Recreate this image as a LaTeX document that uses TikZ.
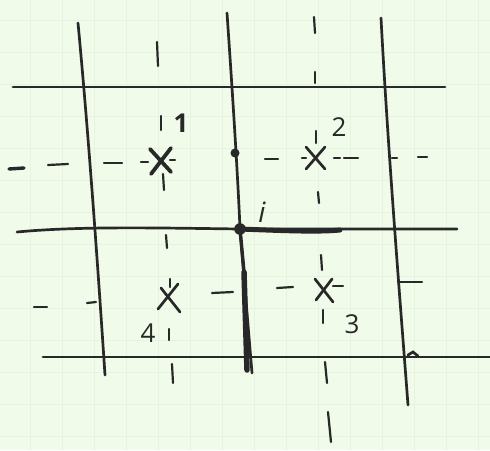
\documentclass[tikz,border=0pt]{standalone}
\usepackage{fontspec}
\setmainfont{Open Sans}
\usetikzlibrary{calc}
\definecolor{paper}{RGB}{240,251,234}
\definecolor{gridc}{RGB}{230,243,224}
\definecolor{ink}{RGB}{40,40,40}
\begin{document}
\begin{tikzpicture}[x=1pt,y=-1pt,
  ink line/.style={draw=ink,line width=2.7pt,line cap=round},
  bold line/.style={draw=ink,line width=5pt,line cap=round},
  tick/.style={draw=ink,line width=2.2pt,line cap=round},
  crossmark/.style={draw=ink,line width=2.7pt,line cap=round},
  lbl/.style={text=ink,font=\fontsize{26}{26}\selectfont,inner sep=0pt}]
\fill[paper] (0,0) rectangle (490,450);
\useasboundingbox (0,0) rectangle (490,450);
% faint paper grid
\foreach \x in {30,62,94,126,158,190,222,254,286,318,350,382,414,446,478}
  \draw[gridc,line width=0.6pt] (\x,0) -- (\x,450);
\foreach \y in {20,52,84,116,148,180,212,244,276,308,340,372,404,436}
  \draw[gridc,line width=0.6pt] (0,\y) -- (490,\y);
% grid lines
\draw[ink line] (78,23) .. controls (90,150) and (100,300) .. (105,375);
\draw[ink line] (227,13) .. controls (233,100) and (238,180) .. (240,229);
\draw[ink line] (240,229) -- (252,373);
\draw[ink line] (381,18) .. controls (388,150) and (400,300) .. (408,405);
\draw[ink line] (13,87) -- (445,87);
\draw[ink line] (17,232) .. controls (80,226) and (160,228) .. (240,229) -- (457,229);
\draw[ink line] (43,357) -- (490,357);
\draw[ink line] (408,355) -- (413,352) -- (418,356);
% bold segments
\draw[bold line] (240,229) .. controls (290,231) and (320,232) .. (340,230);
\draw[bold line,line width=5.5pt] (244,272) -- (247,370);
\draw[ink line,line width=3.4pt] (240,229) -- (244,272);
% dots
\fill[ink] (235,153) circle (4.5);
\fill[ink] (240,229) circle (5.8);
% crosses
\coordinate (c1) at (160,161);
\coordinate (c2) at (315,158);
\coordinate (c3) at (323,290);
\coordinate (c4) at (168,297);
\draw[crossmark,line width=3.8pt] ($(c1)+(-10,-12)$) -- ($(c1)+(11,11)$);
\draw[crossmark,line width=3.8pt] ($(c1)+(11,-13)$) -- ($(c1)+(-9,13)$);
\draw[crossmark] ($(c2)+(-9,-11)$) -- ($(c2)+(10,11)$);
\draw[crossmark] ($(c2)+(10,-11)$) -- ($(c2)+(-9,11)$);
\draw[crossmark] ($(c3)+(-8,-11)$) -- ($(c3)+(10,12)$);
\draw[crossmark] ($(c3)+(9,-11)$) -- ($(c3)+(-7,10)$);
\draw[crossmark] ($(c4)+(-7,-9)$) -- ($(c4)+(12,15)$);
\draw[crossmark] ($(c4)+(10,-13)$) -- ($(c4)+(-10,12)$);
% horizontal dashes, row 1
\draw[ink line,line width=3.4pt] (9,169) -- (24,168);
\draw[tick] (48,165) -- (68,164);
\draw[tick] (104,163) -- (122,163);
\draw[tick] (141,162) -- (148,162);
\draw[tick] (170,160) -- (175,160);
\draw[tick] (265,159) -- (278,159);
\draw[tick] (302,158) -- (306,158);
\draw[tick] (334,158) -- (340,158);
\draw[tick] (344,158) -- (358,158);
\draw[tick] (392,158) -- (397,158);
\draw[tick] (418,157) -- (427,157);
% horizontal dashes, row 2
\draw[tick] (34,307) -- (47,307);
\draw[tick] (87,303) -- (96,302);
\draw[tick] (212,293) -- (233,292);
\draw[tick] (277,288) -- (293,287);
\draw[tick] (333,286) -- (343,286);
\draw[tick] (398,282) -- (422,282);
% vertical dashes, column 1
\draw[tick] (157,42) -- (158,66);
\draw[tick] (161,116) -- (161,130);
\draw[tick] (163,174) -- (164,190);
\draw[tick] (166,235) -- (167,248);
\draw[tick] (170,279) -- (170,287);
\draw[tick] (169,329) -- (169,340);
\draw[tick] (172,364) -- (173,383);
% vertical dashes, column 2
\draw[tick] (314,17) -- (315,33);
\draw[tick] (315,72) -- (315,83);
\draw[tick] (316,131) -- (316,143);
\draw[tick] (318,192) -- (319,203);
\draw[tick] (321,255) -- (322,270);
\draw[tick] (323,310) -- (323,323);
\draw[tick] (325,362) -- (327,383);
\draw[tick] (328,412) -- (331,442);
% labels
\node[lbl] (n1) at (181,123) {\textbf{1}};
\node[lbl] (n2) at (339,127) {2};
\node[lbl] (n3) at (352,324) {3};
\node[lbl] (n4) at (148,333) {4};
\node[lbl,font=\fontsize{28}{28}\selectfont\itshape] (ni) at (262,212) {i};
\end{tikzpicture}
\end{document}
